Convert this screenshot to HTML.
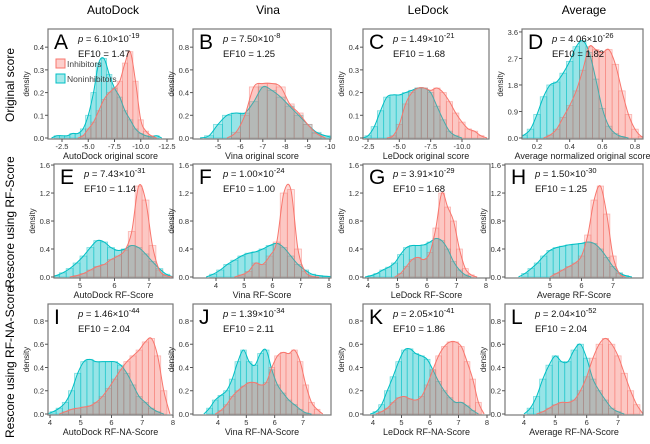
<!DOCTYPE html>
<html><head><meta charset="utf-8"><style>
body{margin:0;background:#fff;}
svg text{font-family:"Liberation Sans",sans-serif;}
</style></head><body>
<svg id="fig" width="650" height="439" viewBox="0 0 650 439" xmlns="http://www.w3.org/2000/svg">
<text x="113" y="14" font-size="12" text-anchor="middle">AutoDock</text>
<text x="268" y="14" font-size="12" text-anchor="middle">Vina</text>
<text x="428" y="14" font-size="12" text-anchor="middle">LeDock</text>
<text x="584" y="14" font-size="12" text-anchor="middle">Average</text>
<text transform="translate(14,85) rotate(-90)" font-size="12" text-anchor="middle">Original score</text>
<text transform="translate(14,222) rotate(-90)" font-size="12" text-anchor="middle">Rescore using RF-Score</text>
<text transform="translate(14,362) rotate(-90)" font-size="12" text-anchor="middle">Rescore using RF-NA-Score</text>
<g id="panels"></g>
</svg>
<script>
// [start, step, values...]
const cyanA=[-2,-0.5,0.01,0.01,0.01,0.02,0.02,0.04,0.1,0.2,0.33,0.35,0.28,0.22,0.18,0.12,0.08,0.04,0.02,0.01,0.005,0.01];
const redA=[-4.5,-0.5,0.01,0.04,0.07,0.12,0.17,0.2,0.22,0.25,0.33,0.38,0.25,0.08,0.03,0.01];
const cyanB=[-4.6,-0.4,0.02,0.12,0.2,0.22,0.22,0.32,0.45,0.42,0.36,0.28,0.2,0.12,0.05,0.02];
const redB=[-5.8,-0.4,0.05,0.2,0.45,0.48,0.48,0.45,0.3,0.22,0.12,0.04];
const cyanC=[-2.5,-0.5,0.01,0.05,0.12,0.18,0.19,0.19,0.2,0.21,0.22,0.22,0.2,0.14,0.08,0.03,0.01];
const redC=[-4.5,-0.5,0.01,0.06,0.15,0.2,0.22,0.22,0.21,0.22,0.2,0.16,0.11,0.07,0.04,0.03,0.01];
const cyanD=[0.12,0.04,0.1,0.3,0.8,1.4,1.8,1.9,2.2,2.6,3.1,3.3,2.9,2.0,1.0,0.4,0.15,0.05];
const redD=[0.28,0.04,0.1,0.3,0.7,1.1,1.6,2.3,3.1,3.0,2.9,3.0,2.5,1.6,0.8,0.3,0.05];
const cyanE=[4.3,0.2,0.02,0.06,0.12,0.2,0.3,0.42,0.52,0.5,0.42,0.38,0.4,0.45,0.42,0.33,0.22,0.12,0.04];
const redE=[4.9,0.2,0.02,0.05,0.1,0.15,0.18,0.25,0.3,0.38,0.65,1.3,1.1,0.45,0.1,0.02];
const cyanF=[3.9,0.25,0.04,0.1,0.18,0.24,0.3,0.34,0.36,0.4,0.45,0.48,0.42,0.3,0.18,0.1,0.04,0.02,0.01];
const redF=[4.9,0.25,0.03,0.08,0.2,0.18,0.3,0.5,1.2,1.25,0.4,0.08,0.01];
const cyanG=[4.1,0.2,0.02,0.05,0.1,0.14,0.2,0.32,0.42,0.45,0.45,0.46,0.5,0.55,0.52,0.4,0.22,0.1,0.03];
const redG=[5.1,0.2,0.05,0.15,0.25,0.28,0.25,0.35,0.7,1.2,1.0,0.8,0.4,0.12,0.03];
const cyanH=[4.2,0.2,0.05,0.12,0.2,0.3,0.38,0.42,0.44,0.46,0.47,0.48,0.5,0.48,0.4,0.28,0.15,0.06,0.02];
const redH=[5.2,0.2,0.05,0.1,0.15,0.2,0.3,0.6,1.1,1.3,0.9,0.3,0.05];
const cyanI=[4.1,0.2,0.02,0.05,0.1,0.2,0.35,0.45,0.47,0.45,0.45,0.45,0.45,0.42,0.35,0.25,0.15,0.1,0.05,0.02];
const redI=[4.5,0.2,0.02,0.04,0.05,0.06,0.07,0.1,0.15,0.22,0.3,0.38,0.45,0.5,0.55,0.62,0.65,0.5,0.2];
const cyanJ=[3.7,0.2,0.05,0.12,0.16,0.2,0.3,0.45,0.55,0.45,0.42,0.52,0.55,0.38,0.25,0.18,0.12,0.08,0.04,0.01];
const redJ=[4.1,0.2,0.03,0.08,0.15,0.2,0.24,0.27,0.27,0.25,0.27,0.4,0.5,0.53,0.52,0.55,0.45,0.25,0.1,0.04];
const cyanK=[4.1,0.2,0.02,0.08,0.2,0.32,0.45,0.55,0.56,0.52,0.5,0.47,0.38,0.28,0.2,0.14,0.1,0.1,0.07,0.03];
const redK=[4.3,0.2,0.02,0.05,0.1,0.14,0.15,0.13,0.12,0.15,0.25,0.38,0.5,0.58,0.62,0.62,0.58,0.45,0.3,0.1];
const cyanL=[4.2,0.2,0.05,0.15,0.3,0.42,0.5,0.45,0.45,0.55,0.6,0.48,0.3,0.2,0.12,0.05,0.02];
const redL=[4.6,0.2,0.02,0.05,0.08,0.1,0.1,0.12,0.2,0.32,0.48,0.6,0.65,0.6,0.5,0.35,0.2,0.08];
const xTicksOrig=[-2.5,-5.0,-7.5,-10.0,-12.5];
const xTicksVina=[-5,-6,-7,-8,-9,-10];
const xTicksAvg=[0.2,0.4,0.6,0.8];
const yTicksSmall=[0,0.1,0.2,0.3,0.4];
const yTicksMid=[0,0.2,0.4,0.6,0.8];
const yTicksD=[0,0.9,1.8,2.7,3.6];
const yTicksRF=[0,0.4,0.8,1.2,1.6];
const pvals=["6.10","7.50","1.49","4.06","7.43","1.00","3.91","1.50","1.46","1.39","2.05","2.04"];
const pexps=["-19","-8","-21","-26","-31","-24","-29","-30","-44","-34","-41","-52"];
const ef10=["1.47","1.25","1.68","1.82","1.14","1.00","1.68","1.25","2.04","2.11","1.86","2.04"];

const rows=[[29,139],[164,278],[304,415]];
const P=[
 {L:"A",r:0,x0:48,x1:173,cy:cyanA,rd:redA,xt:xTicksOrig,t0:-2.5,p0:62,t1:-12.5,p1:167,yt:yTicksSmall,ym:0.48,xl:"AutoDock original score",dec:1},
 {L:"B",r:0,x0:193,x1:331,cy:cyanB,rd:redB,xt:xTicksVina,t0:-5,p0:218,t1:-10,p1:330,yt:yTicksMid,ym:0.96,xl:"Vina original score",dec:0},
 {L:"C",r:0,x0:363,x1:489,cy:cyanC,rd:redC,xt:xTicksOrig.slice(0,4),t0:-2.5,p0:368,t1:-10,p1:462,yt:yTicksSmall,ym:0.48,xl:"LeDock original score",dec:1},
 {L:"D",r:0,x0:522,x1:643,cy:cyanD,rd:redD,xt:xTicksAvg,t0:0.2,p0:537,t1:0.8,p1:635,yt:yTicksD,ym:3.7,xl:"Average normalized original score",dec:1},
 {L:"E",r:1,x0:54,x1:173,cy:cyanE,rd:redE,xt:[5,6,7],t0:5,p0:80,t1:7,p1:149,yt:yTicksRF,ym:1.615,xl:"AutoDock RF-Score",dec:0},
 {L:"F",r:1,x0:193,x1:331,cy:cyanF,rd:redF,xt:[4,5,6,7,8],t0:4,p0:216,t1:8,p1:329,yt:yTicksRF,ym:1.615,xl:"Vina RF-Score",dec:0},
 {L:"G",r:1,x0:363,x1:490,cy:cyanG,rd:redG,xt:[4,5,6,7,8],t0:4,p0:368,t1:8,p1:486,yt:yTicksRF,ym:1.615,xl:"LeDock RF-Score",dec:0},
 {L:"H",r:1,x0:505,x1:643,cy:cyanH,rd:redH,xt:[5,6,7],t0:5,p0:550,t1:7,p1:613,yt:yTicksRF,ym:1.615,xl:"Average RF-Score",dec:0},
 {L:"I",r:2,x0:48,x1:173,cy:cyanI,rd:redI,xt:[4,5,6,7,8],t0:4,p0:50,t1:8,p1:173,yt:yTicksMid,ym:0.946,xl:"AutoDock RF-NA-Score",dec:0},
 {L:"J",r:2,x0:193,x1:331,cy:cyanJ,rd:redJ,xt:[4,5,6,7],t0:4,p0:218,t1:7,p1:303,yt:yTicksMid,ym:0.946,xl:"Vina RF-NA-Score",dec:0},
 {L:"K",r:2,x0:363,x1:490,cy:cyanK,rd:redK,xt:[4,5,6,7,8],t0:4,p0:373,t1:8,p1:487,yt:yTicksMid,ym:0.946,xl:"LeDock RF-NA-Score",dec:0},
 {L:"L",r:2,x0:505,x1:643,cy:cyanL,rd:redL,xt:[4,5,6,7],t0:4,p0:524,t1:7,p1:618,yt:yTicksMid,ym:0.946,xl:"Average RF-NA-Score",dec:0}
];
const NS="http://www.w3.org/2000/svg";
const root=document.getElementById('panels');
function mk(tag,attrs,parent){const e=document.createElementNS(NS,tag);for(const k in attrs)e.setAttribute(k,attrs[k]);(parent||root).appendChild(e);return e;}
function curvePath(pts){let d="M"+pts[0][0]+","+pts[0][1];for(let i=0;i<pts.length-1;i++){const p0=pts[Math.max(0,i-1)],p1=pts[i],p2=pts[i+1],p3=pts[Math.min(pts.length-1,i+2)];d+=" C"+(p1[0]+(p2[0]-p0[0])/6)+","+(p1[1]+(p2[1]-p0[1])/6)+" "+(p2[0]-(p3[0]-p1[0])/6)+","+(p2[1]-(p3[1]-p1[1])/6)+" "+p2[0]+","+p2[1];}return d;}
P.forEach((p,idx)=>{
 const top=rows[p.r][0],bot=rows[p.r][1];
 const y0=bot-1;
 const xs=v=>p.p0+(v-p.t0)/(p.t1-p.t0)*(p.p1-p.p0);
 const ys=v=>y0-v/p.ym*(y0-top);
 const g=mk('g',{});
 
 
 const cp=mk('clipPath',{id:'c'+idx},g);mk('rect',{x:p.x0,y:top,width:p.x1-p.x0,height:bot-top},cp);
 const plot=mk('g',{'clip-path':'url(#c'+idx+')'},g);
 [[p.cy,'#00bfc4','cyan'],[p.rd,'#f8766d','red']].forEach(([arr,col,nm])=>{
  const st=arr[0],step=arr[1],vals=arr.slice(2);
  const w=Math.abs(xs(st+step)-xs(st));
  vals.forEach((v,i)=>{
   const cx=xs(st+i*step);
   const r=mk('rect',{x:cx-w/2,y:ys(v),width:w,height:y0-ys(v),fill:col,'fill-opacity':0.18,stroke:col,'stroke-opacity':0.5,'stroke-width':0.8},plot);
   
   
  });
 });
 [[p.cy,'#00bfc4','cyan'],[p.rd,'#f8766d','red']].forEach(([arr,col,nm])=>{
  const st=arr[0],step=arr[1],vals=arr.slice(2);
  const pts=[[xs(st-step),y0]];
  vals.forEach((v,i)=>pts.push([xs(st+i*step),ys(v)]));
  pts.push([xs(st+vals.length*step),y0]);
  const d=curvePath(pts);
  const f=mk('path',{d:d+" Z",fill:col,'fill-opacity':0.28,stroke:'none'},plot);
  
  
  const l=mk('path',{d:d,fill:'none',stroke:col,'stroke-width':1},plot);
  
  
 });
 const bx=mk('rect',{x:p.x0,y:top,width:p.x1-p.x0,height:bot-top,fill:'none',stroke:'#777','stroke-width':1.2},g);
 
 
 p.yt.forEach(t=>{const y=ys(t);mk('line',{x1:p.x0-3,x2:p.x0,y1:y,y2:y,stroke:'#555'},g);
  const tx=mk('text',{x:p.x0-4,y:y+3,'font-size':7.5,'text-anchor':'end',fill:'#333'},g);tx.textContent=t.toFixed(1);
  
  });
 p.xt.forEach(t=>{const x=xs(t);mk('line',{x1:x,x2:x,y1:bot,y2:bot+3,stroke:'#555'},g);
  const tx=mk('text',{x:x,y:bot+10,'font-size':7.5,'text-anchor':'middle',fill:'#333'},g);tx.textContent=p.dec?t.toFixed(1):String(t);
  
  });
 const yl=mk('text',{transform:'translate('+(p.x0-19)+','+((top+bot)/2)+') rotate(-90)','font-size':8,'text-anchor':'middle',fill:'#222'},g);yl.textContent='density';
 
 
 const xl=mk('text',{x:(p.x0+p.x1)/2,y:bot+20,'font-size':9,'text-anchor':'middle',fill:'#222'},g);xl.textContent=p.xl;
 
 
 const lt=mk('text',{x:p.x0+6,y:top+20,'font-size':21,fill:'#000'},g);lt.textContent=p.L;
 
 
 const pt=mk('text',{x:p.x0+30,y:top+13,'font-size':9.5,fill:'#111'},g);
 pt.innerHTML='<tspan font-style="italic">p</tspan> = '+pvals[idx]+'×10<tspan dy="-4" font-size="7.5">'+pexps[idx]+'</tspan>';
 
 
 const et=mk('text',{x:p.x0+30,y:top+28,'font-size':9.5,fill:'#111'},g);et.textContent='EF10 = '+ef10[idx];
 
 
 if(p.L==='A'){
  [['Inhibitors','#f8766d',top+37],['Noninhibitors','#00bfc4',top+52]].forEach(([t,c,y])=>{
   const lg=mk('g',{},g);
   
   
   mk('rect',{x:p.x0+8,y:y-7,width:9,height:9,fill:c,'fill-opacity':0.35,stroke:c},lg);
   const tt=mk('text',{x:p.x0+19,y:y+1,'font-size':8.5,fill:'#444'},lg);tt.textContent=t;
  });
 }
});
</script>
</body></html>
